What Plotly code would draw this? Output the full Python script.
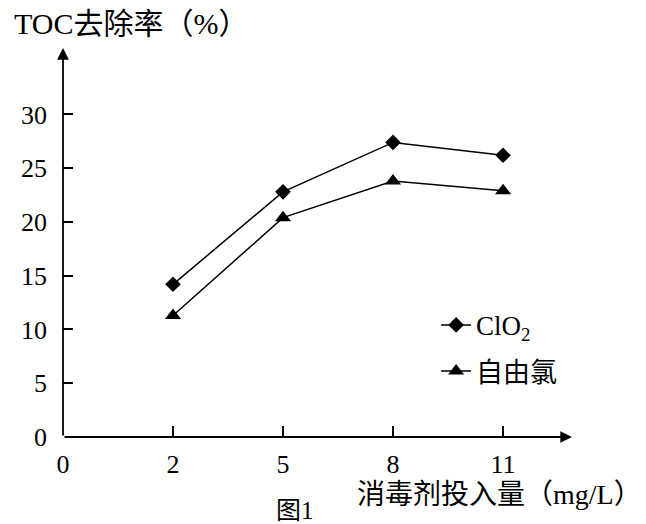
import plotly.graph_objects as go

# ---- data ----
dose_labels = ["0", "2", "5", "8", "11"]          # 消毒剂投入量 (mg/L), equally spaced categories
series_doses = ["2", "5", "8", "11"]
clo2_removal = [14.2, 22.8, 27.4, 26.2]           # ClO2
free_cl_removal = [11.3, 20.4, 23.8, 22.9]        # 自由氯
y_ticks = [0, 5, 10, 15, 20, 25, 30]

pos = {lab: i for i, lab in enumerate(dose_labels)}
xs = [pos[d] for d in series_doses]

FONT = "Liberation Serif, Times New Roman, Noto Sans CJK SC, serif"

fig = go.Figure()
fig.add_trace(go.Scatter(
    x=xs, y=clo2_removal, mode="lines+markers", name="ClO<sub>2</sub>",
    line=dict(color="black", width=1.5),
    marker=dict(symbol="diamond", size=12, color="black"),
    legendgroup="a",
))
fig.add_trace(go.Scatter(
    x=xs, y=free_cl_removal, mode="lines+markers", name="自由氯",
    line=dict(color="black", width=1.5),
    marker=dict(symbol="triangle-up", size=14, color="black"),
    legendgroup="b",
))

fig.update_layout(
    width=638, height=516,
    margin=dict(l=55, r=74, t=40, b=87),
    plot_bgcolor="white", paper_bgcolor="white",
    font=dict(family=FONT, size=26, color="black"),
    showlegend=True,
    legend=dict(
        x=0.733, y=0.35, xanchor="left", yanchor="top",
        bgcolor="rgba(0,0,0,0)", font=dict(size=27, family=FONT),
        tracegroupgap=8, itemwidth=30,
    ),
    xaxis=dict(
        range=[0, 4.627], tickmode="array",
        tickvals=list(range(len(dose_labels))), ticktext=dose_labels,
        ticks="inside", ticklen=11, tickwidth=1.5, tickcolor="black",
        showline=False, showgrid=False, zeroline=False,
        tickfont=dict(size=26, family=FONT),
        ticklabelstandoff=9,
    ),
    yaxis=dict(
        range=[0, 36.18], tickmode="array", tickvals=y_ticks,
        ticks="inside", ticklen=10, tickwidth=1.5, tickcolor="black",
        showline=False, showgrid=False, zeroline=False,
        tickfont=dict(size=26, family=FONT),
        ticklabelstandoff=15,
    ),
)

# axis lines with arrow heads
fig.add_annotation(x=1, y=0, xref="x domain", yref="y domain",
                   ax=0, ay=0, axref="x domain", ayref="y domain",
                   showarrow=True, arrowhead=2, arrowsize=1.3, arrowwidth=1.8,
                   arrowcolor="black", text="")
fig.add_annotation(x=0, y=1, xref="x domain", yref="y domain",
                   ax=0, ay=0, axref="x domain", ayref="y domain",
                   showarrow=True, arrowhead=2, arrowsize=1.3, arrowwidth=1.8,
                   arrowcolor="black", text="")

# titles
fig.add_annotation(text="TOC去除率（%）", xref="paper", yref="paper",
                   x=-0.1, y=1.062, xanchor="left", yanchor="middle",
                   showarrow=False, font=dict(size=30, family=FONT))
fig.add_annotation(text="消毒剂投入量（mg/L）", xref="paper", yref="paper",
                   x=1.142, y=-0.149, xanchor="right", yanchor="middle",
                   showarrow=False, font=dict(size=28, family=FONT))
fig.add_annotation(text="图1", xref="paper", yref="paper",
                   x=0.456, y=-0.19, xanchor="center", yanchor="middle",
                   showarrow=False, font=dict(size=25, family=FONT))

fig.write_html("out.html")
